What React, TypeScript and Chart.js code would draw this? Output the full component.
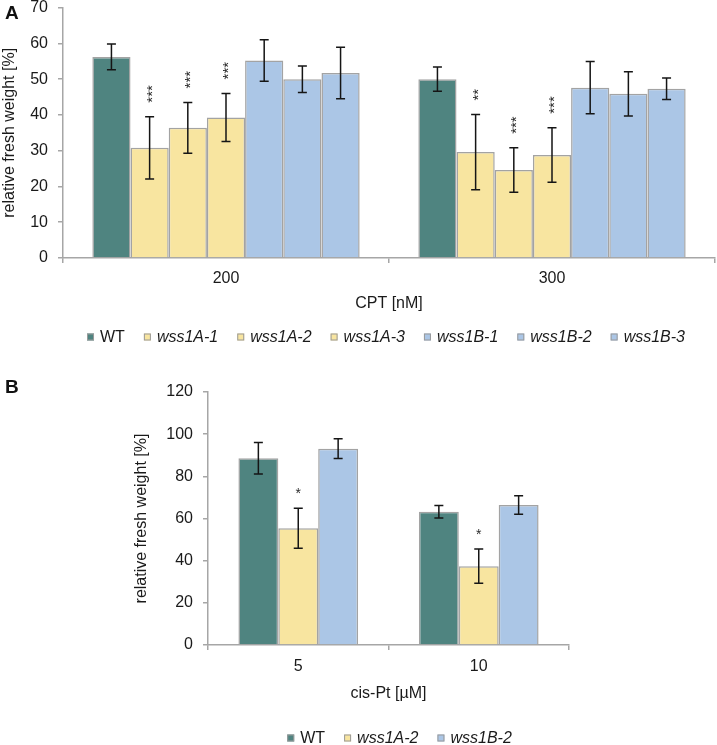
import React, { useEffect, useRef } from 'react';
import { Chart, registerables } from 'chart.js';

Chart.register(...registerables);

const FONT = '"Liberation Sans", Arial, Helvetica, sans-serif';
Chart.defaults.font.family = FONT;
Chart.defaults.font.size = 16;
Chart.defaults.color = '#1a1a1a';

// ---------- Panel A: CPT ----------
const cptCategories = ['200', '300'];
const cptSeries = ['WT', 'wss1A-1', 'wss1A-2', 'wss1A-3', 'wss1B-1', 'wss1B-2', 'wss1B-3'];
const cptWT = [56.2, 50.0];
const cptA1 = [30.8, 29.6];
const cptA2 = [36.4, 24.6];
const cptA3 = [39.3, 28.8];
const cptB1 = [55.2, 47.6];
const cptB2 = [50.0, 45.9];
const cptB3 = [51.7, 47.3];
const cptWTErr = [3.6, 3.4];
const cptA1Err = [8.7, 10.5];
const cptA2Err = [7.1, 6.2];
const cptA3Err = [6.7, 7.6];
const cptB1Err = [5.8, 7.3];
const cptB2Err = [3.7, 6.2];
const cptB3Err = [7.2, 3.0];
const cptA1Sig = ['***', '**'];
const cptA2Sig = ['***', '***'];
const cptA3Sig = ['***', '***'];
const cptYMax = 70;
const cptYStep = 10;

// ---------- Panel B: cis-Pt ----------
const cisCategories = ['5', '10'];
const cisSeries = ['WT', 'wss1A-2', 'wss1B-2'];
const cisWT = [88.6, 63.2];
const cisA2 = [55.4, 37.4];
const cisB2 = [93.1, 66.4];
const cisWTErr = [7.5, 3.0];
const cisA2Err = [9.5, 8.1];
const cisB2Err = [4.7, 4.4];
const cisA2Sig = ['*', '*'];
const cisYMax = 120;
const cisYStep = 20;

const WT_COLOR = '#4f8480';
const A_COLOR = '#f8e5a0';
const B_COLOR = '#abc6e6';
const BORDER = '#a3a3a3';
const AXIS = '#a6a6a6';

const annotPlugin = {
  id: 'annot',
  afterDatasetsDraw(chart: any, _args: any, opts: any) {
    const ctx = chart.ctx;
    const ys = chart.scales.y;
    chart.data.datasets.forEach((ds: any, di: number) => {
      const meta = chart.getDatasetMeta(di);
      meta.data.forEach((bar: any, i: number) => {
        const v = ds.data[i];
        const e = ds.err ? ds.err[i] : 0;
        const x = bar.x;
        const top = ys.getPixelForValue(v + e);
        const bot = ys.getPixelForValue(v - e);
        const cap = 4.5;
        ctx.save();
        ctx.strokeStyle = '#151515';
        ctx.lineWidth = 1.5;
        ctx.beginPath();
        ctx.moveTo(x, top);
        ctx.lineTo(x, bot);
        ctx.moveTo(x - cap, top);
        ctx.lineTo(x + cap, top);
        ctx.moveTo(x - cap, bot);
        ctx.lineTo(x + cap, bot);
        ctx.stroke();
        const s = ds.sig ? ds.sig[i] : '';
        if (s) {
          ctx.fillStyle = '#2a2a2a';
          ctx.font = opts.sigFont;
          ctx.textBaseline = 'alphabetic';
          const m = ctx.measureText(s);
          const mid = (m.actualBoundingBoxAscent - m.actualBoundingBoxDescent) / 2;
          if (opts.sigRotated) {
            ctx.translate(x, top - opts.sigGap);
            ctx.rotate(-Math.PI / 2);
            ctx.textAlign = 'left';
            ctx.fillText(s, 0, mid);
          } else {
            ctx.textAlign = 'center';
            ctx.fillText(s, x, top - opts.sigGap + mid);
          }
        }
        ctx.restore();
      });
    });
  },
  afterDraw(chart: any, _args: any, opts: any) {
    const ctx = chart.ctx;
    const area = chart.chartArea;
    const box = 7;
    const gap = 6;
    const spacing = 19;
    const items = chart.data.datasets.map((ds: any) => {
      const font = (ds.label === 'WT' ? '' : 'italic ') + '16px ' + FONT;
      ctx.font = font;
      return { label: ds.label, color: ds.backgroundColor, font, w: ctx.measureText(ds.label).width };
    });
    const total = items.reduce((a: number, it: any) => a + box + gap + it.w, 0) + spacing * (items.length - 1);
    let x = (area.left + area.right) / 2 + opts.legendDx - total / 2;
    const y = area.bottom + opts.legendDy;
    ctx.save();
    items.forEach((it: any) => {
      ctx.fillStyle = it.color;
      ctx.fillRect(x, y - box / 2, box, box);
      ctx.strokeStyle = '#9a9a9a';
      ctx.lineWidth = 1;
      ctx.strokeRect(x + 0.5, y - box / 2 + 0.5, box - 1, box - 1);
      ctx.fillStyle = '#1a1a1a';
      ctx.font = it.font;
      ctx.textAlign = 'left';
      ctx.textBaseline = 'middle';
      ctx.fillText(it.label, x + box + gap, y + 1);
      x += box + gap + it.w + spacing;
    });
    ctx.restore();
  },
};

function makeDataset(label: string, data: number[], err: number[], color: string, sig?: string[]) {
  return {
    label,
    data,
    err,
    sig,
    backgroundColor: color,
    borderColor: BORDER,
    borderWidth: 1.5,
    barPercentage: 1,
  } as any;
}

function buildOptions(p: any) {
  return {
    responsive: false,
    animation: false,
    layout: { padding: p.padding },
    plugins: {
      legend: { display: false },
      tooltip: { enabled: false },
      annot: p.annot,
    },
    scales: {
      x: {
        offset: true,
        grid: { display: true, offset: true, drawOnChartArea: false, drawTicks: true, tickLength: 5, color: AXIS, lineWidth: 1.5 },
        border: { display: true, color: AXIS, width: 1.5 },
        ticks: { padding: p.xTickPad, font: { size: 16 }, color: '#1a1a1a' },
        title: { display: true, text: p.xTitle, font: { size: 16 }, color: '#1a1a1a', padding: { top: 0, bottom: 0 } },
        afterFit: (s: any) => { s.height = p.xHeight; },
      },
      y: {
        min: 0,
        max: p.yMax,
        ticks: { stepSize: p.yStep, padding: 10, font: { size: 16 }, color: '#1a1a1a' },
        grid: { display: true, drawOnChartArea: false, drawTicks: true, tickLength: 5, color: AXIS, lineWidth: 1.5 },
        border: { display: true, color: AXIS, width: 1.5 },
        title: { display: true, text: 'relative fresh weight [%]', font: { size: 16 }, color: '#1a1a1a', padding: { top: 0, bottom: 0 } },
        afterFit: (s: any) => { s.width = p.yWidth; },
      },
    },
  } as any;
}

function ChartA() {
  const ref = useRef<HTMLCanvasElement>(null);
  useEffect(() => {
    const chart = new Chart(ref.current as HTMLCanvasElement, {
      type: 'bar',
      data: {
        labels: cptCategories,
        datasets: [
          makeDataset(cptSeries[0], cptWT, cptWTErr, WT_COLOR),
          makeDataset(cptSeries[1], cptA1, cptA1Err, A_COLOR, cptA1Sig),
          makeDataset(cptSeries[2], cptA2, cptA2Err, A_COLOR, cptA2Sig),
          makeDataset(cptSeries[3], cptA3, cptA3Err, A_COLOR, cptA3Sig),
          makeDataset(cptSeries[4], cptB1, cptB1Err, B_COLOR),
          makeDataset(cptSeries[5], cptB2, cptB2Err, B_COLOR),
          makeDataset(cptSeries[6], cptB3, cptB3Err, B_COLOR),
        ].map((d) => ({ ...d, categoryPercentage: 0.82 })),
      },
      options: buildOptions({
        padding: { top: 5, right: 2, left: 0, bottom: 42 },
        xTickPad: 6,
        xTitle: 'CPT [nM]',
        xHeight: 55,
        yMax: cptYMax,
        yStep: cptYStep,
        yWidth: 63,
        annot: { sigRotated: true, sigFont: '15px ' + FONT, sigGap: 14, legendDx: -3, legendDy: 79 },
      }),
      plugins: [annotPlugin],
    });
    return () => chart.destroy();
  }, []);
  return <canvas ref={ref} width={717} height={367} style={{ position: 'absolute', left: 0, top: -12, width: 717, height: 367 }} />;
}

function ChartB() {
  const ref = useRef<HTMLCanvasElement>(null);
  useEffect(() => {
    const chart = new Chart(ref.current as HTMLCanvasElement, {
      type: 'bar',
      data: {
        labels: cisCategories,
        datasets: [
          makeDataset(cisSeries[0], cisWT, cisWTErr, WT_COLOR),
          makeDataset(cisSeries[1], cisA2, cisA2Err, A_COLOR, cisA2Sig),
          makeDataset(cisSeries[2], cisB2, cisB2Err, B_COLOR),
        ].map((d) => ({ ...d, categoryPercentage: 0.663 })),
      },
      options: buildOptions({
        padding: { top: 42, right: 148, left: 132, bottom: 42 },
        xTickPad: 7,
        xTitle: 'cis-Pt [µM]',
        xHeight: 58,
        yMax: cisYMax,
        yStep: cisYStep,
        yWidth: 76,
        annot: { sigRotated: false, sigFont: '14px ' + FONT, sigGap: 17, legendDx: 11, legendDy: 93 },
      }),
      plugins: [annotPlugin],
    });
    return () => chart.destroy();
  }, []);
  return <canvas ref={ref} width={717} height={395} style={{ position: 'absolute', left: 0, top: 350, width: 717, height: 395 }} />;
}

export default function App() {
  const panelLabel: React.CSSProperties = {
    position: 'absolute',
    left: 5,
    fontFamily: FONT,
    fontWeight: 'bold',
    fontSize: 19,
    lineHeight: '19px',
    color: '#111',
  };
  return (
    <div style={{ position: 'absolute', left: 0, top: 0, width: 717, height: 745, overflow: 'hidden', background: '#fff' }}>
      <ChartA />
      <ChartB />
      <div style={{ ...panelLabel, top: 3 }}>A</div>
      <div style={{ ...panelLabel, top: 377 }}>B</div>
    </div>
  );
}
